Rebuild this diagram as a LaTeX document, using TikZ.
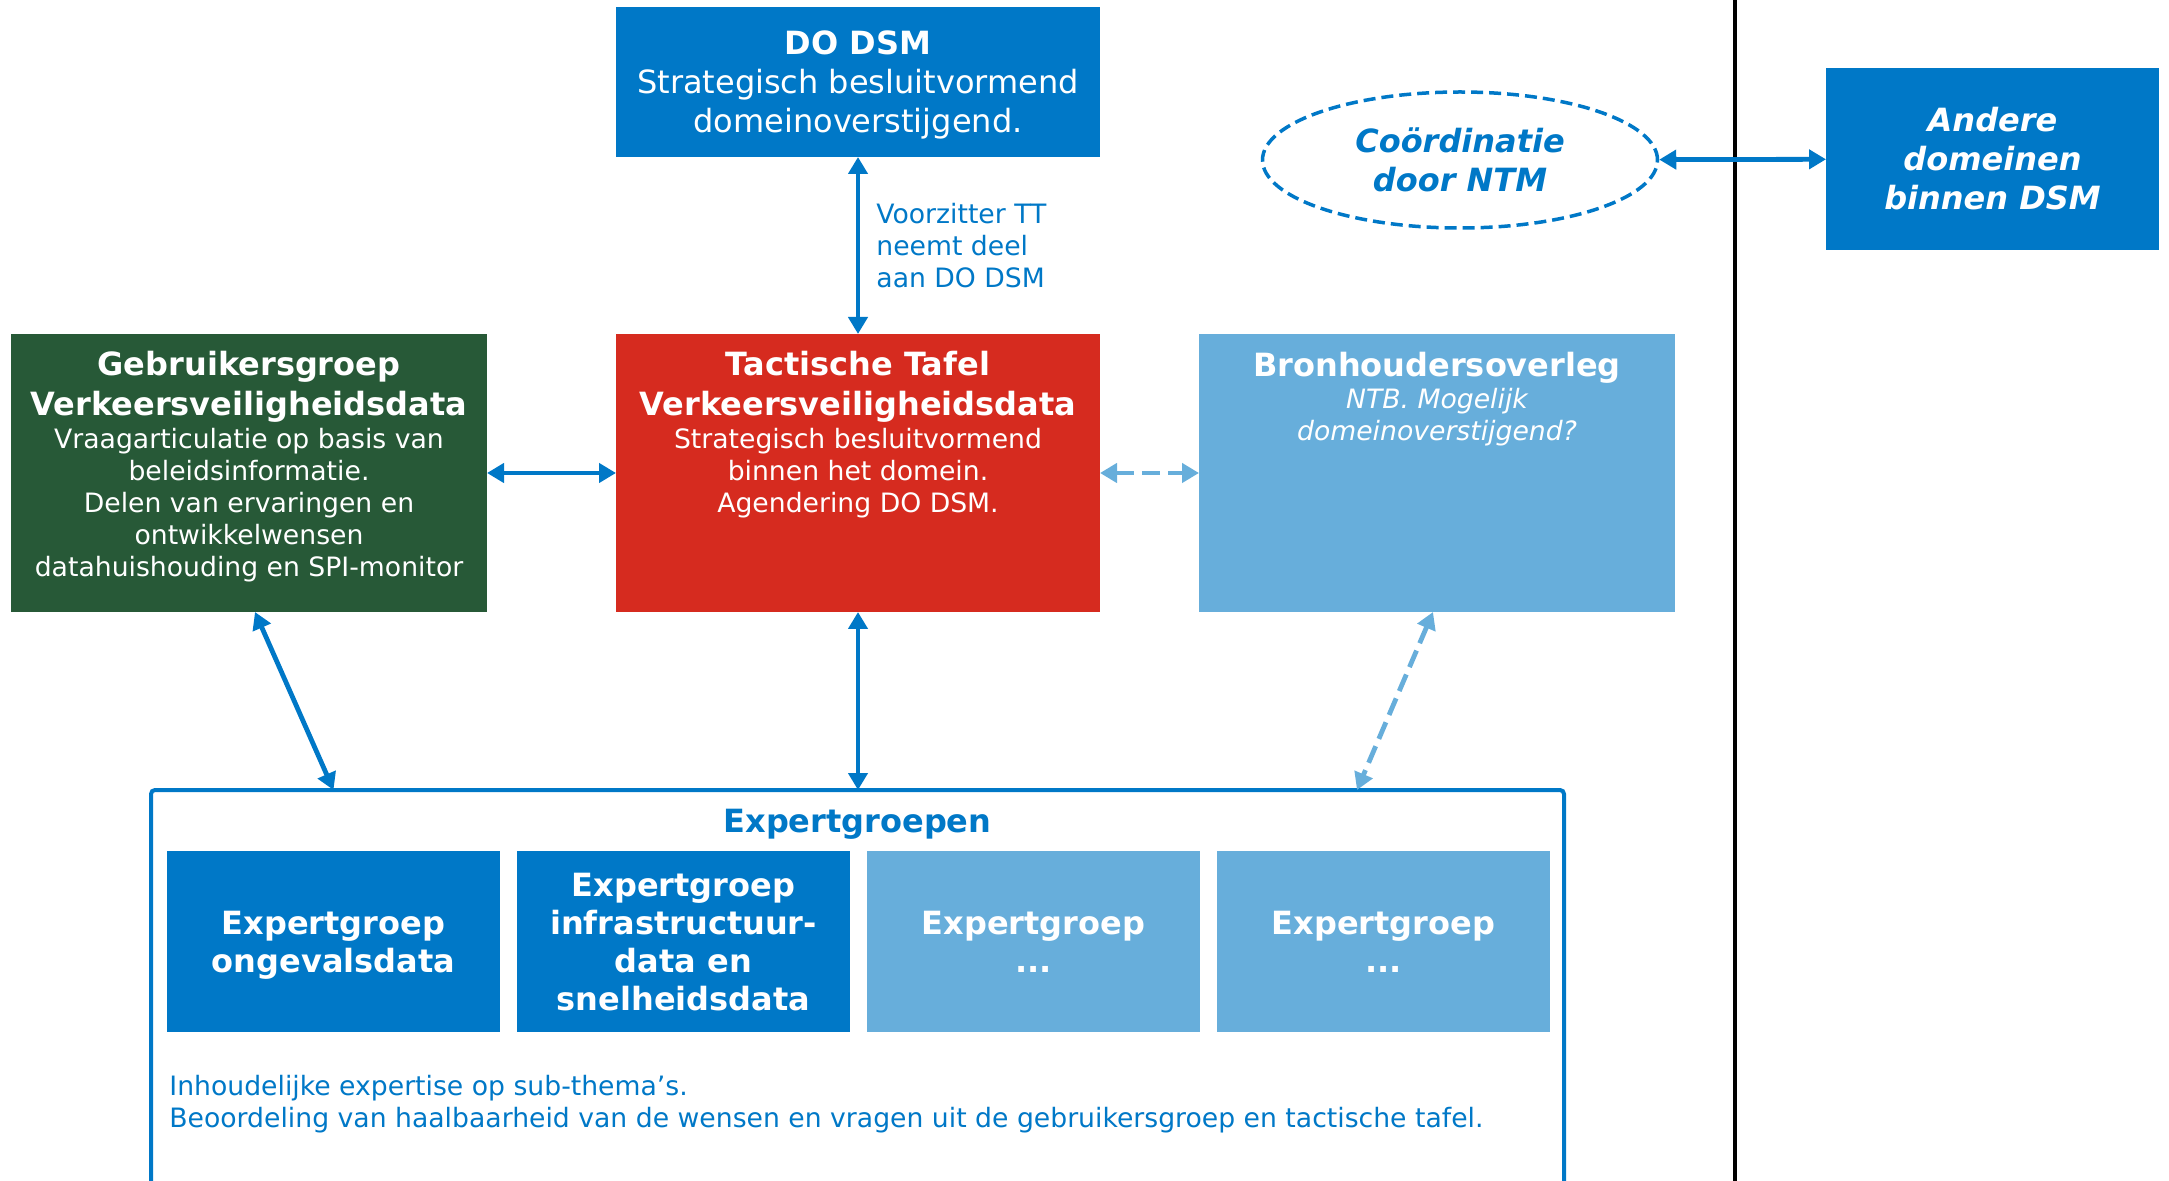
\documentclass[tikz,border=0pt]{standalone}
\usepackage{fontspec}
\setmainfont{DejaVu Sans}
\usepackage{tikz}
\usetikzlibrary{positioning, arrows.meta, shapes.geometric}
\definecolor{dsmblauw}{RGB}{0,120,199}
\definecolor{lichtblauw}{RGB}{103,174,219}
\definecolor{donkergroen}{RGB}{39,89,55}
\definecolor{rood}{RGB}{214,43,31}
\newcommand{\kop}[1]{{\fontsize{16}{20}\selectfont\bfseries #1}}
\tikzset{
  rect1/.style = {
    shape = rectangle,
    draw = none,
    inner sep = 0pt,
    outer sep = 0pt,
    text = white,
    align = center,
  }
}
\tikzset{
  rect2/.style = {
    rect1,
    minimum width = 166.5pt,
    minimum height = 90.5pt,
    text depth = 0pt,
    font = \fontsize{16}{19}\selectfont\bfseries,
  }
}
\tikzset{
  tekst1/.style = {
    text = white,
    align = center,
    inner sep = 0pt,
    font = \fontsize{13.33}{16}\selectfont,
  }
}
\tikzset{
  arrow1/.style = {
    draw = dsmblauw, line width = 2.4pt,
    {Triangle[length = 8.5pt, width = 9.5pt]}-{Triangle[length = 8.5pt, width = 9.5pt]},
  }
}
\tikzset{
  arrow2/.style = {
    arrow1, draw = lichtblauw, dash pattern = on 9pt off 4pt,
  }
}

\begin{document}
\begin{tikzpicture}[x = 0.5pt, y = -0.5pt]
            \useasboundingbox (0, 0) rectangle (2169, 1181);
            % scheidingslijn
            \draw[line width = 2pt] (1735, 0) -- (1735, 1181);

            \node[rect1, fill = dsmblauw, minimum width = 242pt, minimum height = 75pt, text depth = 0pt,
                  font = \fontsize{16}{19.5}\selectfont](dsm) at (858, 82)
                  {\textbf{DO DSM}\\Strategisch besluitvormend\\domeinoverstijgend.};
            \node[rect1, fill = donkergroen, minimum width = 238pt, minimum height = 139pt](gg) at (249, 473){};
            \node[rect1, fill = rood, minimum width = 242pt, minimum height = 139pt](tt) at (858, 473){};
            \node[rect1, fill = lichtblauw, minimum width = 238pt, minimum height = 139pt](bo) at (1437, 473){};
            \node[tekst1, below = 8.3pt of gg.north](gg-t){\kop{Gebruikersgroep}\\[4pt]\kop{Verkeersveiligheidsdata}\\[0.5pt]
                  Vraagarticulatie op basis van\\beleidsinformatie.\\Delen van ervaringen en\\ontwikkelwensen\\datahuishouding en SPI-monitor};
            \node[tekst1, below = 8.3pt of tt.north](tt-t){\kop{Tactische Tafel}\\[4pt]\kop{Verkeersveiligheidsdata}\\[0.5pt]
                  Strategisch besluitvormend\\binnen het domein.\\Agendering DO DSM.};
            \node[tekst1, below = 8.8pt of bo.north](bo-t){\kop{Bronhoudersoverleg}\\
                  \itshape NTB. Mogelijk\\\itshape domeinoverstijgend?};

            \node[ellipse, draw = dsmblauw, line width = 1.75pt, dash pattern = on 6pt off 3pt,
                  minimum width = 197.5pt, minimum height = 68pt, inner sep = 0pt, text = dsmblauw, align = center,
                  font = \fontsize{16}{19.5}\selectfont\bfseries\itshape](ntm) at (1460, 160){Coördinatie\\door NTM};
            \node[rect1, fill = dsmblauw, minimum width = 166.5pt, minimum height = 91pt,
                  font = \fontsize{16}{19.5}\selectfont\bfseries\itshape](ad) at (1992.5, 159){Andere\\domeinen\\binnen DSM};

            % expertgroepen
            \node[draw = dsmblauw, line width = 2pt, rounded corners = 2pt, minimum width = 706.5pt,
                  minimum height = 230pt, inner sep = 0pt, outer sep = 0pt](eg) at (857.5, 1020){};
            \node[text = dsmblauw, font = \fontsize{16}{19}\selectfont\bfseries, anchor = base](eg-t) at (857.5, 832){Expertgroepen};
            \node[rect2, fill = dsmblauw](e1) at (333.5, 941.5){Expertgroep\\ongevalsdata};
            \node[rect2, fill = dsmblauw, right = 8.5pt of e1](e2){Expertgroep\\infrastructuur-\\data en\\snelheidsdata};
            \node[rect2, fill = lichtblauw, right = 8.5pt of e2](e3){Expertgroep\\...};
            \node[rect2, fill = lichtblauw, right = 8.5pt of e3](e4){Expertgroep\\...};
            \node[tekst1, text = dsmblauw, align = left, anchor = north west](eg-b) at (169, 1075)
                  {Inhoudelijke expertise op sub-thema’s.\\Beoordeling van haalbaarheid van de wensen en vragen uit de gebruikersgroep en tactische tafel.};

            \draw[arrow1](dsm) -- node[tekst1, text = dsmblauw, align = left, right = 8pt](vz){Voorzitter TT\\neemt deel\\aan DO DSM} (tt);
            \draw[arrow1](gg) -- (tt);
            \draw[arrow2](tt) -- (bo);
            \draw[arrow1](ntm) -- (ad);
            \draw[arrow1]([xshift = 3pt]gg.south) -- (eg.north -| e1);
            \draw[arrow1](tt) -- (tt |- eg.north);
            \draw[arrow2]([xshift = -2pt]bo.south) -- ([xshift = -40pt]bo.south |- eg.north);
        \end{tikzpicture}
\end{document}
